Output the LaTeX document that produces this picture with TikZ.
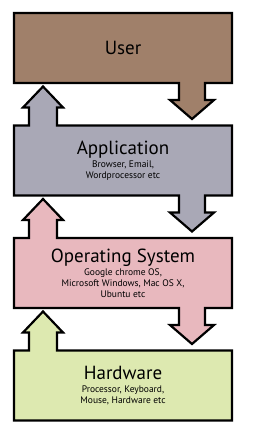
\documentclass[tikz,border=0pt]{standalone}
\usepackage{fontspec}
\setmainfont{PT Sans}
\usetikzlibrary{positioning, backgrounds}

\definecolor{usercol}{HTML}{A0806A}
\definecolor{appcol}{HTML}{A9A8B6}
\definecolor{oscol}{HTML}{E8B8BE}
\definecolor{hwcol}{HTML}{DDE9B0}

\begin{document}
\begin{tikzpicture}[
        x=1pt, y=1pt,
        node distance=42.5pt,
        % Box del livello: solo testo, il contorno viene disegnato dopo
        box/.style={minimum width=218pt, minimum height=70pt, inner sep=0pt, outer sep=0pt, align=center, font=\fontsize{9.5}{11}\selectfont},
        % Contorno unico box + frecce
        block/.style={draw=black, line width=2.2pt, line join=miter}
    ]
    \useasboundingbox (0,0) rectangle (252,-441);

    % --- Livelli ---
    \node[box] (user) at (123,-48) {\fontsize{19}{21}\selectfont User};
    \node[box, below=of user] (app) {{\fontsize{19}{21}\selectfont Application}\\[2pt]Browser, Email,\\Wordprocessor etc};
    \node[box, below=of app] (os) {{\fontsize{19}{21}\selectfont Operating System}\\[2pt]Google chrome OS,\\Microsoft Windows, Mac OS X,\\Ubuntu etc};
    \node[box, below=of os] (hw) {{\fontsize{19}{21}\selectfont Hardware}\\[2pt]Processor, Keyboard,\\Mouse, Hardware etc};

    \begin{scope}[on background layer]
        % User: freccia verso il basso
        \draw[block, fill=usercol] (user.north west) -- (user.north east) -- (user.south east)
            -- ++(-27,0) -- ++(0,-17) -- ++(9,0) -- ++(-22,-19) -- ++(-22,19) -- ++(9,0) -- ++(0,17)
            -- (user.south west) -- cycle;
        % Application: freccia in su e in giu
        \draw[block, fill=appcol] (app.north west)
            -- ++(15,0) -- ++(0,18) -- ++(-6,0) -- ++(20,21) -- ++(20,-21) -- ++(-6,0) -- ++(0,-18)
            -- (app.north east) -- (app.south east)
            -- ++(-27,0) -- ++(0,-17) -- ++(9,0) -- ++(-22,-19) -- ++(-22,19) -- ++(9,0) -- ++(0,17)
            -- (app.south west) -- cycle;
        % Operating System
        \draw[block, fill=oscol] (os.north west)
            -- ++(15,0) -- ++(0,18) -- ++(-6,0) -- ++(20,21) -- ++(20,-21) -- ++(-6,0) -- ++(0,-18)
            -- (os.north east) -- (os.south east)
            -- ++(-27,0) -- ++(0,-17) -- ++(9,0) -- ++(-22,-19) -- ++(-22,19) -- ++(9,0) -- ++(0,17)
            -- (os.south west) -- cycle;
        % Hardware: solo freccia in su
        \draw[block, fill=hwcol] (hw.north west)
            -- ++(15,0) -- ++(0,18) -- ++(-6,0) -- ++(20,21) -- ++(20,-21) -- ++(-6,0) -- ++(0,-18)
            -- (hw.north east) -- (hw.south east) -- (hw.south west) -- cycle;
    \end{scope}

\end{tikzpicture}
\end{document}
